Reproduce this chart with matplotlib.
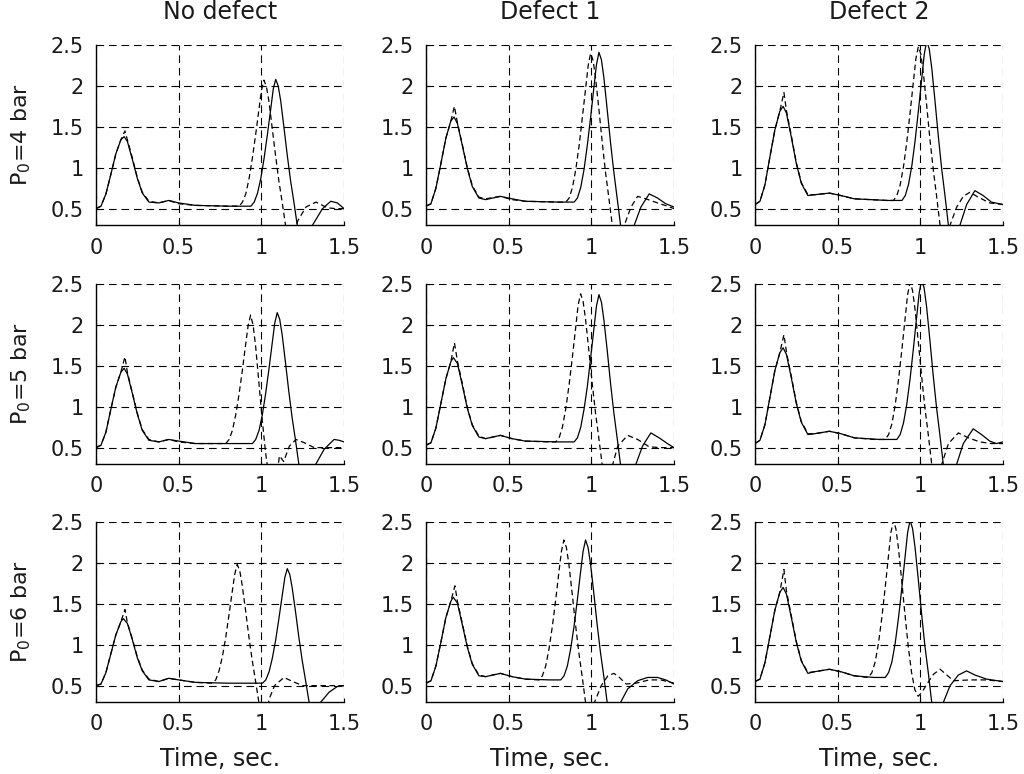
import matplotlib
matplotlib.use("Agg")
import matplotlib.pyplot as plt

plt.rcParams['font.family'] = ['DejaVu Sans']
plt.rcParams['mathtext.default'] = 'regular'
plt.rcParams['lines.scale_dashes'] = False

col_titles = ['No defect', 'Defect 1', 'Defect 2']
row_labels = ['P$_0$=4 bar', 'P$_0$=5 bar', 'P$_0$=6 bar']
x_label = 'Time, sec.'
x_ticks = [0, 0.5, 1, 1.5]
x_tick_labels = ['0', '0.5', '1', '1.5']
y_ticks = [0.5, 1, 1.5, 2, 2.5]
y_tick_labels = ['0.5', '1', '1.5', '2', '2.5']

# ---------------- row 1: P0 = 4 bar ----------------
t11s = [0, .03, .06, .09, .12, .15, .17, .19, .22, .25, .28, .32, .38, .44, .50, .60, .80,
        0.937, 0.957, 0.977, 0.997, 1.017, 1.037, 1.057, 1.072, 1.087, 1.102, 1.117, 1.137, 1.157, 1.177, 1.197, 1.217, 1.237,
        1.27, 1.31, 1.37, 1.42, 1.46, 1.5]
y11s = [0.50, 0.53, 0.68, 0.92, 1.17, 1.34, 1.38, 1.32, 1.10, 0.87, 0.69, 0.58, 0.57, 0.60, 0.57, 0.54, 0.53,
        0.53, 0.58, 0.69, 0.87, 1.12, 1.41, 1.72, 1.96, 2.08, 2.00, 1.82, 1.49, 1.15, 0.84, 0.58, 0.30, 0.07,
        0.05, 0.30, 0.50, 0.59, 0.57, 0.50]
t11d = [0, .03, .06, .09, .12, .15, .175, .19, .22, .25, .28, .32, .38, .44, .50, .60, .80,
        0.866, 0.886, 0.906, 0.926, 0.946, 0.966, 0.986, 1.001, 1.016, 1.031, 1.046, 1.066, 1.086, 1.106, 1.126, 1.146, 1.166,
        1.19, 1.22, 1.27, 1.33, 1.40, 1.45, 1.5]
y11d = [0.50, 0.53, 0.68, 0.92, 1.17, 1.34, 1.45, 1.34, 1.12, 0.88, 0.70, 0.59, 0.57, 0.60, 0.56, 0.54, 0.53,
        0.53, 0.58, 0.68, 0.87, 1.12, 1.41, 1.72, 1.95, 2.07, 1.99, 1.81, 1.48, 1.15, 0.84, 0.58, 0.30, 0.07,
        0.10, 0.35, 0.52, 0.58, 0.51, 0.50, 0.50]

t12s = [0, .03, .06, .09, .12, .15, .17, .19, .22, .25, .28, .32, .36, .45, .52, .60, .80,
        0.896, 0.916, 0.936, 0.956, 0.976, 0.996, 1.016, 1.031, 1.046, 1.061, 1.076, 1.096, 1.116, 1.136, 1.156, 1.176, 1.196,
        1.22, 1.26, 1.30, 1.35, 1.40, 1.45, 1.5]
y12s = [0.53, 0.56, 0.75, 1.05, 1.36, 1.57, 1.62, 1.54, 1.27, 0.99, 0.77, 0.63, 0.61, 0.65, 0.62, 0.59, 0.58,
        0.58, 0.63, 0.76, 0.98, 1.28, 1.62, 1.99, 2.26, 2.41, 2.32, 2.10, 1.71, 1.31, 0.95, 0.63, 0.31, 0.03,
        0.0, 0.30, 0.52, 0.68, 0.63, 0.56, 0.52]
t12d = [0, .03, .06, .09, .12, .15, .172, .19, .22, .25, .28, .32, .36, .45, .52, .60, .80,
        0.846, 0.866, 0.886, 0.906, 0.926, 0.946, 0.966, 0.981, 0.996, 1.011, 1.026, 1.046, 1.066, 1.086, 1.106, 1.126, 1.146,
        1.17, 1.20, 1.24, 1.28, 1.33, 1.40, 1.46, 1.5]
y12d = [0.53, 0.56, 0.75, 1.05, 1.36, 1.57, 1.75, 1.55, 1.28, 1.00, 0.78, 0.64, 0.62, 0.65, 0.61, 0.59, 0.58,
        0.58, 0.63, 0.76, 0.98, 1.27, 1.62, 1.98, 2.25, 2.40, 2.31, 2.09, 1.71, 1.31, 0.94, 0.63, 0.31, 0.03,
        0.0, 0.30, 0.52, 0.65, 0.62, 0.57, 0.53, 0.50]

t13s = [0, .03, .06, .09, .12, .15, .17, .19, .22, .25, .28, .32, .36, .45, .52, .60, .80,
        0.889, 0.909, 0.929, 0.949, 0.969, 0.989, 1.009, 1.024, 1.039, 1.054, 1.069, 1.089, 1.109, 1.129, 1.149, 1.169, 1.189,
        1.21, 1.24, 1.28, 1.33, 1.38, 1.43, 1.5]
y13s = [0.55, 0.59, 0.79, 1.13, 1.46, 1.69, 1.75, 1.67, 1.37, 1.05, 0.81, 0.66, 0.67, 0.69, 0.66, 0.62, 0.60,
        0.60, 0.66, 0.80, 1.03, 1.34, 1.71, 2.10, 2.39, 2.55, 2.45, 2.22, 1.81, 1.38, 0.99, 0.66, 0.31, 0.02,
        0.0, 0.30, 0.55, 0.72, 0.66, 0.58, 0.55]
t13d = [0, .03, .06, .09, .12, .15, .175, .19, .22, .25, .28, .32, .36, .45, .52, .60, .80,
        0.838, 0.858, 0.878, 0.898, 0.918, 0.938, 0.958, 0.973, 0.988, 1.003, 1.018, 1.038, 1.058, 1.078, 1.098, 1.118, 1.138,
        1.16, 1.18, 1.22, 1.26, 1.30, 1.35, 1.42, 1.5]
y13d = [0.55, 0.59, 0.79, 1.13, 1.46, 1.69, 1.92, 1.70, 1.39, 1.06, 0.82, 0.67, 0.67, 0.69, 0.66, 0.62, 0.60,
        0.60, 0.66, 0.79, 1.01, 1.31, 1.67, 2.05, 2.33, 2.48, 2.39, 2.16, 1.77, 1.35, 0.98, 0.66, 0.32, 0.04,
        0.0, 0.30, 0.52, 0.65, 0.70, 0.64, 0.57, 0.55]

# ---------------- row 2: P0 = 5 bar ----------------
t21s = [0, .03, .06, .09, .12, .15, .17, .19, .22, .25, .28, .32, .38, .44, .50, .60, .80,
        0.946, 0.966, 0.986, 1.006, 1.026, 1.046, 1.066, 1.081, 1.096, 1.111, 1.126, 1.146, 1.166, 1.186, 1.206, 1.226, 1.246,
        1.28, 1.33, 1.38, 1.44, 1.47, 1.5]
y21s = [0.50, 0.53, 0.69, 0.97, 1.24, 1.42, 1.47, 1.40, 1.16, 0.91, 0.71, 0.59, 0.57, 0.60, 0.58, 0.55, 0.55,
        0.55, 0.60, 0.71, 0.90, 1.16, 1.46, 1.78, 2.02, 2.15, 2.07, 1.88, 1.54, 1.19, 0.87, 0.60, 0.31, 0.07,
        0.0, 0.30, 0.48, 0.60, 0.59, 0.57]
t21d = [0, .03, .06, .09, .12, .15, .175, .19, .22, .25, .28, .32, .38, .44, .50, .60, .75,
        0.785, 0.805, 0.825, 0.845, 0.865, 0.885, 0.905, 0.920, 0.935, 0.950, 0.965, 0.985, 1.005, 1.025, 1.045, 1.065, 1.085,
        1.11, 1.135, 1.17, 1.21, 1.26, 1.32, 1.40, 1.5]
y21d = [0.50, 0.53, 0.69, 0.97, 1.24, 1.42, 1.61, 1.42, 1.17, 0.92, 0.72, 0.60, 0.57, 0.60, 0.57, 0.55, 0.55,
        0.55, 0.60, 0.71, 0.90, 1.15, 1.44, 1.76, 1.99, 2.12, 2.00, 1.75, 1.30, 0.85, 0.45, 0.15, 0.0, 0.05,
        0.40, 0.33, 0.52, 0.60, 0.56, 0.50, 0.50, 0.50]

t22s = [0, .03, .06, .09, .12, .15, .165, .19, .22, .25, .28, .32, .36, .45, .52, .60, .80,
        0.896, 0.916, 0.936, 0.956, 0.976, 0.996, 1.016, 1.031, 1.046, 1.061, 1.076, 1.096, 1.116, 1.136, 1.156, 1.176, 1.196,
        1.22, 1.27, 1.31, 1.36, 1.41, 1.46, 1.5]
y22s = [0.53, 0.56, 0.74, 1.04, 1.34, 1.55, 1.60, 1.53, 1.26, 0.98, 0.77, 0.63, 0.61, 0.65, 0.61, 0.58, 0.57,
        0.57, 0.62, 0.75, 0.97, 1.25, 1.60, 1.96, 2.23, 2.37, 2.28, 2.06, 1.69, 1.29, 0.93, 0.62, 0.30, 0.03,
        0.0, 0.30, 0.52, 0.68, 0.62, 0.55, 0.50]
t22d = [0, .03, .06, .09, .12, .15, .172, .19, .22, .25, .28, .32, .36, .45, .52, .60, .75,
        0.785, 0.805, 0.825, 0.845, 0.865, 0.885, 0.905, 0.920, 0.935, 0.950, 0.965, 0.985, 1.005, 1.025, 1.045, 1.065, 1.085,
        1.10, 1.13, 1.16, 1.22, 1.28, 1.35, 1.42, 1.5]
y22d = [0.53, 0.56, 0.74, 1.04, 1.34, 1.55, 1.78, 1.56, 1.28, 0.99, 0.78, 0.64, 0.61, 0.65, 0.61, 0.58, 0.57,
        0.57, 0.62, 0.75, 0.97, 1.26, 1.60, 1.96, 2.24, 2.38, 2.29, 2.07, 1.69, 1.29, 0.93, 0.62, 0.30, 0.03,
        0.05, 0.30, 0.52, 0.65, 0.60, 0.51, 0.50, 0.50]

t23s = [0, .03, .06, .09, .12, .15, .17, .19, .22, .25, .28, .32, .36, .45, .52, .60, .75,
        0.858, 0.878, 0.898, 0.918, 0.938, 0.958, 0.978, 0.993, 1.008, 1.023, 1.038, 1.058, 1.078, 1.098, 1.118, 1.138, 1.158,
        1.19, 1.22, 1.26, 1.32, 1.37, 1.42, 1.46, 1.5]
y23s = [0.55, 0.59, 0.78, 1.11, 1.44, 1.66, 1.72, 1.64, 1.35, 1.04, 0.81, 0.66, 0.67, 0.70, 0.67, 0.62, 0.60,
        0.60, 0.66, 0.80, 1.03, 1.34, 1.71, 2.10, 2.39, 2.55, 2.45, 2.22, 1.81, 1.38, 0.99, 0.66, 0.31, 0.02,
        0.0, 0.30, 0.55, 0.73, 0.66, 0.58, 0.55, 0.57]
t23d = [0, .03, .06, .09, .12, .15, .175, .19, .22, .25, .28, .32, .36, .45, .52, .60, .72,
        0.788, 0.808, 0.828, 0.848, 0.868, 0.888, 0.908, 0.923, 0.938, 0.953, 0.968, 0.988, 1.008, 1.028, 1.048, 1.068, 1.088,
        1.10, 1.13, 1.17, 1.23, 1.29, 1.36, 1.43, 1.5]
y23d = [0.55, 0.59, 0.78, 1.11, 1.44, 1.66, 1.88, 1.67, 1.37, 1.05, 0.82, 0.67, 0.67, 0.70, 0.67, 0.62, 0.60,
        0.60, 0.66, 0.79, 1.02, 1.33, 1.69, 2.08, 2.37, 2.52, 2.42, 2.19, 1.79, 1.37, 0.98, 0.66, 0.31, 0.02,
        0.0, 0.30, 0.55, 0.68, 0.62, 0.57, 0.55, 0.55]

# ---------------- row 3: P0 = 6 bar ----------------
t31s = [0, .03, .06, .09, .12, .15, .165, .19, .22, .25, .28, .32, .38, .44, .50, .60, .80, 0.95,
        1.007, 1.027, 1.047, 1.067, 1.087, 1.107, 1.127, 1.142, 1.157, 1.172, 1.187, 1.207, 1.227, 1.247, 1.267, 1.287, 1.307,
        1.32, 1.36, 1.41, 1.46, 1.5]
y31s = [0.50, 0.52, 0.66, 0.89, 1.12, 1.28, 1.32, 1.26, 1.06, 0.84, 0.68, 0.57, 0.55, 0.59, 0.57, 0.54, 0.53, 0.53,
        0.53, 0.57, 0.67, 0.84, 1.06, 1.33, 1.61, 1.82, 1.93, 1.86, 1.69, 1.40, 1.09, 0.81, 0.57, 0.32, 0.11,
        0.05, 0.30, 0.42, 0.49, 0.50]
t31d = [0, .03, .06, .09, .12, .15, .175, .19, .22, .25, .28, .32, .38, .44, .50, .60, .70,
        0.704, 0.724, 0.744, 0.764, 0.784, 0.804, 0.824, 0.839, 0.854, 0.869, 0.884, 0.904, 0.924, 0.944, 0.964, 0.984, 1.004,
        1.025, 1.05, 1.08, 1.137, 1.19, 1.25, 1.5]
y31d = [0.50, 0.52, 0.66, 0.89, 1.12, 1.28, 1.43, 1.27, 1.07, 0.85, 0.69, 0.58, 0.55, 0.59, 0.57, 0.54, 0.53,
        0.53, 0.57, 0.68, 0.85, 1.08, 1.36, 1.65, 1.86, 1.98, 1.91, 1.73, 1.43, 1.11, 0.82, 0.57, 0.31, 0.10,
        0.15, 0.35, 0.50, 0.60, 0.55, 0.50, 0.50]

t32s = [0, .03, .06, .09, .12, .15, .165, .19, .22, .25, .28, .32, .36, .45, .52, .60, .75,
        0.815, 0.835, 0.855, 0.875, 0.895, 0.915, 0.935, 0.950, 0.965, 0.980, 0.995, 1.015, 1.035, 1.055, 1.075, 1.095, 1.115,
        1.14, 1.178, 1.22, 1.28, 1.34, 1.40, 1.45, 1.5]
y32s = [0.53, 0.56, 0.74, 1.03, 1.33, 1.53, 1.58, 1.51, 1.24, 0.97, 0.76, 0.62, 0.61, 0.65, 0.61, 0.58, 0.57,
        0.57, 0.62, 0.74, 0.95, 1.22, 1.54, 1.89, 2.14, 2.28, 2.19, 1.99, 1.63, 1.25, 0.91, 0.62, 0.31, 0.06,
        0.0, 0.30, 0.46, 0.56, 0.60, 0.60, 0.57, 0.52]
t32d = [0, .03, .06, .09, .12, .15, .175, .19, .22, .25, .28, .32, .36, .45, .52, .60, .68,
        0.684, 0.704, 0.724, 0.744, 0.764, 0.784, 0.804, 0.819, 0.834, 0.849, 0.864, 0.884, 0.904, 0.924, 0.944, 0.964, 0.984,
        1.0, 1.02, 1.06, 1.10, 1.137, 1.17, 1.21, 1.27, 1.35, 1.42, 1.5]
y32d = [0.53, 0.56, 0.74, 1.03, 1.33, 1.53, 1.72, 1.53, 1.26, 0.98, 0.77, 0.63, 0.61, 0.65, 0.61, 0.58, 0.57,
        0.57, 0.62, 0.74, 0.95, 1.22, 1.54, 1.89, 2.14, 2.28, 2.19, 1.99, 1.63, 1.25, 0.91, 0.62, 0.31, 0.06,
        0.05, 0.30, 0.50, 0.62, 0.65, 0.60, 0.52, 0.53, 0.57, 0.57, 0.53]

t33s = [0, .03, .06, .09, .12, .15, .17, .19, .22, .25, .28, .32, .36, .45, .52, .60, .72,
        0.788, 0.808, 0.828, 0.848, 0.868, 0.888, 0.908, 0.923, 0.938, 0.953, 0.968, 0.988, 1.008, 1.028, 1.048, 1.068, 1.088,
        1.11, 1.14, 1.18, 1.23, 1.28, 1.33, 1.40, 1.5]
y33s = [0.55, 0.58, 0.78, 1.10, 1.42, 1.64, 1.70, 1.62, 1.33, 1.03, 0.80, 0.65, 0.67, 0.70, 0.67, 0.62, 0.60,
        0.60, 0.66, 0.79, 1.02, 1.33, 1.69, 2.08, 2.37, 2.52, 2.42, 2.19, 1.79, 1.37, 0.98, 0.66, 0.31, 0.02,
        0.05, 0.30, 0.50, 0.63, 0.68, 0.63, 0.58, 0.55]
t33d = [0, .03, .06, .09, .12, .15, .175, .19, .22, .25, .28, .32, .36, .45, .52, .60, .68,
        0.687, 0.707, 0.727, 0.747, 0.767, 0.787, 0.807, 0.822, 0.837, 0.852, 0.867, 0.887, 0.907, 0.927, 0.947, 0.967, 0.987,
        1.01, 1.04, 1.08, 1.12, 1.16, 1.20, 1.30, 1.40, 1.5]
y33d = [0.55, 0.58, 0.78, 1.10, 1.42, 1.64, 1.92, 1.66, 1.35, 1.04, 0.81, 0.66, 0.67, 0.70, 0.67, 0.62, 0.60,
        0.60, 0.66, 0.79, 1.02, 1.33, 1.69, 2.08, 2.37, 2.52, 2.42, 2.19, 1.79, 1.37, 0.98, 0.66, 0.45, 0.37,
        0.42, 0.52, 0.64, 0.70, 0.63, 0.56, 0.57, 0.57, 0.55]

panels = [
    [(t11s, y11s, t11d, y11d), (t12s, y12s, t12d, y12d), (t13s, y13s, t13d, y13d)],
    [(t21s, y21s, t21d, y21d), (t22s, y22s, t22d, y22d), (t23s, y23s, t23d, y23d)],
    [(t31s, y31s, t31d, y31d), (t32s, y32s, t32d, y32d), (t33s, y33s, t33d, y33d)],
]

W, H = 1024, 774
fig = plt.figure(figsize=(W / 100, H / 100), dpi=100)
lefts = [96, 426, 755]
tops = [45, 284, 522]
aw, ah = 248, 180
txt_color = '#1a1a1a'

for r in range(3):
    for c in range(3):
        ax = fig.add_axes([lefts[c] / W, 1 - (tops[r] + ah) / H, aw / W, ah / H])
        ts, ys, td, yd = panels[r][c]
        ax.plot(td, yd, color='black', lw=0.9, linestyle=(0, (4, 2.5)))
        ax.plot(ts, ys, color='black', lw=0.9)
        ax.set_xlim(0, 1.5)
        ax.set_ylim(0.3, 2.5)
        ax.set_xticks(x_ticks)
        ax.set_xticklabels(x_tick_labels)
        ax.set_yticks(y_ticks)
        ax.set_yticklabels(y_tick_labels)
        ax.grid(True, color='black', linestyle=(0, (5.5, 3.5)), linewidth=0.8)
        ax.set_axisbelow(True)
        for s in ['top', 'right']:
            ax.spines[s].set_visible(False)
        for s in ['left', 'bottom']:
            ax.spines[s].set_linewidth(1.0)
        ax.tick_params(direction='in', length=3, width=0.8, labelsize=15,
                       labelcolor=txt_color, top=False, right=False)
        ax.tick_params(axis='x', pad=9)
        ax.tick_params(axis='y', pad=9)
        if r == 0:
            ax.set_title(col_titles[c], fontsize=17, pad=19, color=txt_color)
        if c == 0:
            ax.set_ylabel(row_labels[r], fontsize=16, color=txt_color)
            ax.yaxis.set_label_coords(-0.255, 0.5)
        if r == 2:
            ax.set_xlabel(x_label, fontsize=17, color=txt_color)
            ax.xaxis.set_label_coords(0.5, -0.25)

fig.savefig('out.png', dpi=100)
